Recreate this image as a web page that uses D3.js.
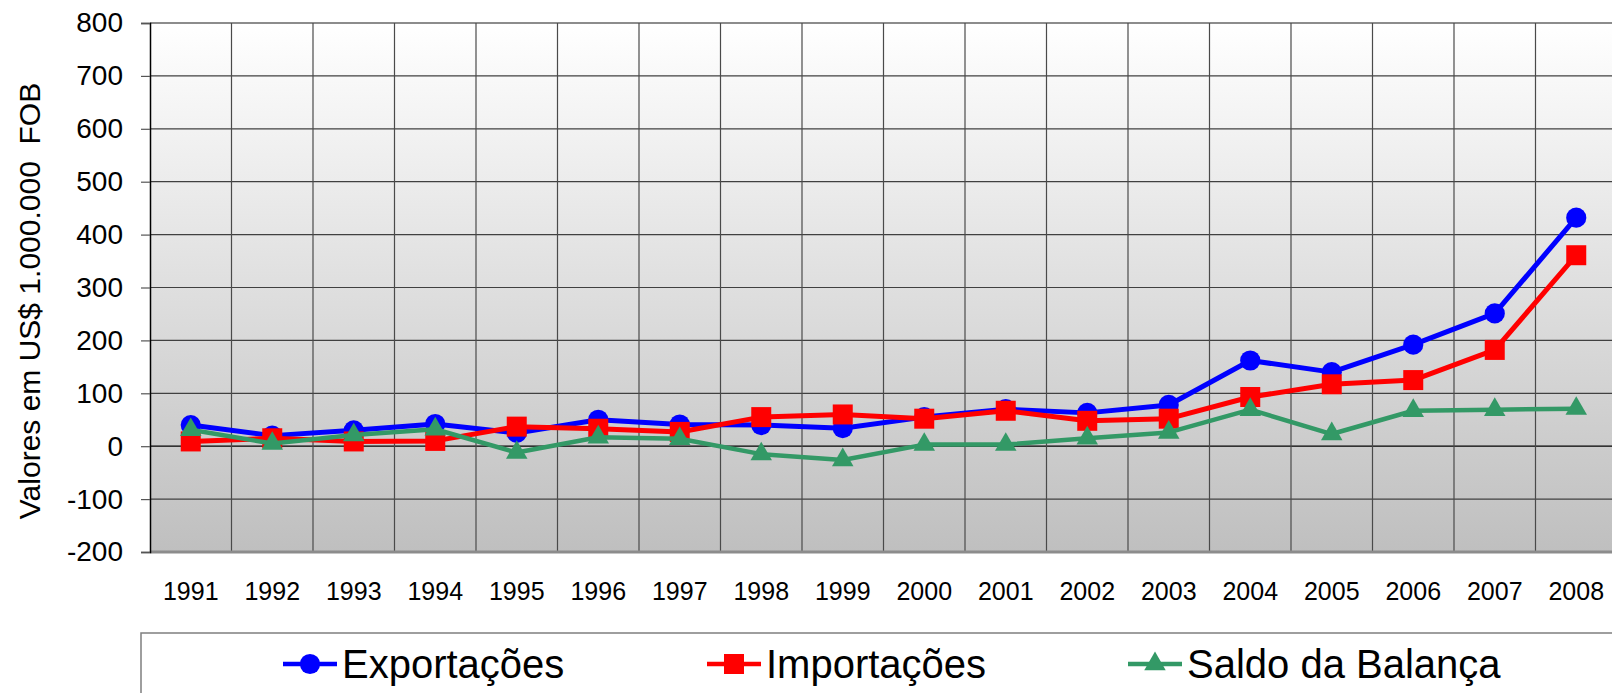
<!DOCTYPE html>
<html>
<head>
<meta charset="utf-8">
<script src="https://cdn.jsdelivr.net/npm/d3@7/dist/d3.min.js"></script>
<style>
  body { margin: 0; background: #fff; }
  svg { display: block; font-family: "Liberation Sans", Arial, sans-serif; }
</style>
</head>
<body>
<div id="chart-area"></div>
<script>
const years = ["1991", "1992", "1993", "1994", "1995", "1996", "1997", "1998", "1999",
    "2000", "2001", "2002", "2003", "2004", "2005", "2006", "2007", "2008"];
const exportacoes = [40, 20, 30, 42, 25, 50, 41, 40, 34, 55, 70, 63, 78, 162, 140, 192, 251, 432];
const importacoes = [9, 15, 9, 10, 37, 33, 27, 55, 60, 52, 67, 48, 52, 93, 117, 125, 182, 361];
const saldo = [31, 5, 21, 32, -12, 17, 14, -15, -26, 3, 3, 15, 26, 69, 23, 67, 69, 71];
const yTicks = [-200, -100, 0, 100, 200, 300, 400, 500, 600, 700, 800];
const seriesNames = ["Exportações", "Importações", "Saldo da Balança"];

const margin = { left: 150, right: -5, top: 23, bottom: 141 };
const W = 1612, H = 693;
const width = W - margin.left - margin.right;
const height = H - margin.top - margin.bottom;

const svg = d3.select("#chart-area")
    .append("svg")
    .attr("width", W)
    .attr("height", H);

const defs = svg.append("defs");
const grad = defs.append("linearGradient")
    .attr("id", "bg")
    .attr("x1", 0).attr("y1", 0).attr("x2", 0).attr("y2", 1);
grad.append("stop").attr("offset", "0%").attr("stop-color", "#ffffff");
grad.append("stop").attr("offset", "100%").attr("stop-color", "#bfbfbf");

const g = svg.append("g")
    .attr("transform", "translate(" + margin.left + "," + margin.top + ")");

// scales
const x = d3.scaleBand().domain(years).range([0, width]);
const y = d3.scaleLinear().domain([-200, 800]).range([height, 0]);

// plot background
g.append("rect")
    .attr("width", width)
    .attr("height", height)
    .attr("fill", "url(#bg)");

// horizontal grid
g.append("g")
    .selectAll("line")
    .data(yTicks)
    .enter()
    .append("line")
    .attr("x1", 0).attr("x2", width)
    .attr("y1", d => y(d)).attr("y2", d => y(d))
    .attr("stroke", d => d === 0 ? "#000" : (d === 800 ? "#8c8c8c" : "#404040"))
    .attr("stroke-width", d => d === 800 ? 2 : 1.2);

// vertical grid at band boundaries
g.append("g")
    .selectAll("line")
    .data(years.slice(1))
    .enter()
    .append("line")
    .attr("x1", d => x(d)).attr("x2", d => x(d))
    .attr("y1", 0).attr("y2", height)
    .attr("stroke", "#4a4a4a")
    .attr("stroke-width", 1.2);

// bottom border
g.append("line")
    .attr("x1", 0).attr("x2", width)
    .attr("y1", height).attr("y2", height)
    .attr("stroke", "#8c8c8c")
    .attr("stroke-width", 3);

// Y axis (plain hyphen for negatives, like the original)
const yAxis = g.append("g")
    .call(d3.axisLeft(y).tickValues(yTicks).tickSize(9).tickPadding(18)
        .tickFormat(d => String(d)));
yAxis.select(".domain").attr("stroke", "#000").attr("stroke-width", 1.5);
yAxis.selectAll(".tick line").attr("stroke", "#555").attr("stroke-width", 1.2);
yAxis.selectAll("text")
    .attr("font-size", "28px")
    .attr("font-family", "Liberation Sans, Arial, sans-serif")
    .attr("fill", "#000");

// X axis
const xAxis = g.append("g")
    .attr("transform", "translate(0," + height + ")")
    .call(d3.axisBottom(x).tickSize(0).tickPadding(30));
xAxis.select(".domain").remove();
xAxis.selectAll("text")
    .attr("font-size", "25px")
    .attr("font-family", "Liberation Sans, Arial, sans-serif")
    .attr("fill", "#000");

// Y label
svg.append("text")
    .attr("transform", "translate(40,301) rotate(-90)")
    .attr("text-anchor", "middle")
    .attr("font-size", "30px")
    .attr("fill", "#000")
    .style("white-space", "pre")
    .text("Valores em US$ 1.000.000  FOB");

// series
const series = [
    { name: seriesNames[0], values: exportacoes, color: "#0000ff", shape: d3.symbolCircle, size: 320, lw: 5 },
    { name: seriesNames[1], values: importacoes, color: "#ff0000", shape: d3.symbolSquare, size: 400, lw: 5 },
    { name: seriesNames[2], values: saldo, color: "#339966", shape: d3.symbolTriangle, size: 200, lw: 4.5 }
];

const line = d3.line()
    .x((d, i) => x(years[i]) + x.bandwidth() / 2)
    .y(d => y(d));

series.forEach(s => {
    const sg = g.append("g");
    sg.append("path")
        .datum(s.values)
        .attr("d", line)
        .attr("fill", "none")
        .attr("stroke", s.color)
        .attr("stroke-width", s.lw)
        .attr("stroke-linejoin", "round");
    sg.selectAll("path.mk")
        .data(s.values)
        .enter()
        .append("path")
        .attr("class", "mk")
        .attr("d", d3.symbol().type(s.shape).size(s.size))
        .attr("transform", (d, i) => "translate(" + (x(years[i]) + x.bandwidth() / 2) + "," + y(d) + ")")
        .attr("fill", s.color);
});

// Legend
const legend = svg.append("g");
legend.append("rect")
    .attr("x", 141)
    .attr("y", 633)
    .attr("width", 1500)
    .attr("height", 100)
    .attr("fill", "#fff")
    .attr("stroke", "#7f7f7f")
    .attr("stroke-width", 1.5);

const legendX = [283, 707, 1128];
series.forEach((s, i) => {
    const lg = legend.append("g")
        .attr("transform", "translate(" + legendX[i] + ",664)");
    lg.append("line")
        .attr("x1", 0).attr("x2", 54)
        .attr("y1", 0).attr("y2", 0)
        .attr("stroke", s.color)
        .attr("stroke-width", 4.5);
    lg.append("path")
        .attr("d", d3.symbol().type(s.shape).size(s.size))
        .attr("transform", "translate(27,0)")
        .attr("fill", s.color);
    lg.append("text")
        .attr("x", 59)
        .attr("y", 0)
        .attr("dy", "0.35em")
        .attr("font-size", "40px")
        .attr("fill", "#000")
        .text(s.name);
});
</script>
</body>
</html>
